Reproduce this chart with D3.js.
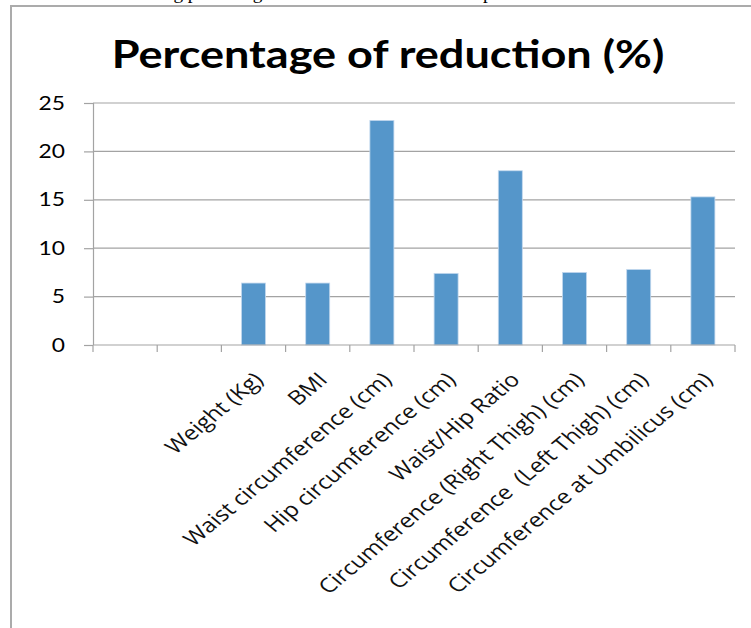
<!DOCTYPE html>
<html>
<head>
<meta charset="utf-8">
<script src="https://cdn.jsdelivr.net/npm/d3@7"></script>
<style>
  body { margin: 0; background: #fff; }
  svg { display: block; }
  .x-label { white-space: pre; }
</style>
</head>
<body>
<div id="chart"></div>
<script>
// chart data (first two slots are empty in the original)
const categories = ['', '', 'Weight (Kg)', 'BMI', 'Waist circumference (cm)', 'Hip circumference (cm)',
  'Waist/Hip Ratio', 'Circumference (Right Thigh) (cm)', 'Circumference  (Left Thigh) (cm)',
  'Circumference at Umbilicus (cm)'];
const reduction = [null, null, 6.4, 6.4, 23.2, 7.4, 18.0, 7.5, 7.8, 15.3];
const yTicks = [0, 5, 10, 15, 20, 25];

const width = 751, height = 628;
const margin = {top: 103, right: 16, bottom: 283, left: 93};
// the scanned figure is stretched sideways, so text gets the same stretch
const stretch = 1.2;

const svg = d3.select('#chart').append('svg')
    .attr('width', width)
    .attr('height', height);

// clipped caption line from the document above the figure
svg.append('text')
    .attr('transform', `translate(118,-1) scale(${stretch},1)`)
    .style('font-family', '"Liberation Serif", serif')
    .style('font-size', '16px')
    .text('showing percentage of reduction in the various parameters');

svg.append('rect').attr('x', 0).attr('y', 7).attr('width', width).attr('height', height).attr('fill', '#fff');
svg.append('path')
    .attr('d', `M11,${height} V6 H${width}`)
    .attr('fill', 'none')
    .attr('stroke', '#ababab')
    .attr('stroke-width', 2);

svg.append('text')
    .attr('transform', 'translate(388,68) scale(1.155,1)')
    .attr('text-anchor', 'middle')
    .style('font-family', 'Lato, sans-serif')
    .style('font-weight', 'bold')
    .style('font-size', '39px')
    .text('Percentage of reduction (%)');

const innerW = width - margin.left - margin.right;
const innerH = height - margin.top - margin.bottom;

const g = svg.append('g').attr('transform', `translate(${margin.left},${margin.top})`);

const x = d3.scaleBand()
    .domain(d3.range(categories.length))
    .range([0, innerW])
    .paddingInner(0.626)
    .paddingOuter(0.313);

const y = d3.scaleLinear().domain([0, 25]).range([innerH, 0]);

// gridlines
g.selectAll('.grid')
  .data(yTicks.filter(d => d > 0))
  .join('line')
    .attr('class', 'grid')
    .attr('x1', 0).attr('x2', innerW)
    .attr('y1', d => y(d)).attr('y2', d => y(d))
    .attr('stroke', '#a3a3a3')
    .attr('stroke-width', 1.2);

// bars
g.selectAll('.bar')
  .data(reduction.map((v, i) => ({i, v})).filter(d => d.v != null))
  .join('rect')
    .attr('class', 'bar')
    .attr('x', d => x(d.i))
    .attr('y', d => y(d.v))
    .attr('width', x.bandwidth())
    .attr('height', d => innerH - y(d.v))
    .attr('fill', '#5596ca')
    .attr('stroke', '#c3d8ee')
    .attr('stroke-width', 0.8);

// y axis
const yAxis = g.append('g')
    .call(d3.axisLeft(y).tickValues(yTicks).tickSize(9));
yAxis.select('.domain').attr('stroke', '#a3a3a3').attr('stroke-width', 1.2).attr('d', `M-9,0.5H0.5V${innerH}`);
yAxis.selectAll('.tick line').attr('stroke', '#a3a3a3').attr('stroke-width', 1.2);
yAxis.selectAll('.tick text')
    .attr('x', 0)
    .attr('transform', `translate(-28,0) scale(${stretch},1)`)
    .style('font-family', 'Lato, sans-serif')
    .style('font-size', '19px')
    .attr('fill', '#000');

// x axis: ticks sit on the category boundaries
const step = x.step();
const xAxis = g.append('g').attr('transform', `translate(0,${innerH})`);
xAxis.append('line')
    .attr('x1', 0).attr('x2', innerW)
    .attr('stroke', '#a3a3a3').attr('stroke-width', 1.2);
xAxis.selectAll('.xtick')
  .data(d3.range(categories.length + 1))
  .join('line')
    .attr('class', 'xtick')
    .attr('x1', d => d * step).attr('x2', d => d * step)
    .attr('y1', 0).attr('y2', 7)
    .attr('stroke', '#a3a3a3').attr('stroke-width', 1.2);

xAxis.selectAll('.x-label')
  .data(categories.map((c, i) => ({c, i})).filter(d => d.c))
  .join('text')
    .attr('class', 'x-label')
    .attr('text-anchor', 'end')
    .attr('transform', d => `translate(${x(d.i) + x.bandwidth() / 2 + 11},36) scale(${stretch},1) rotate(-45)`)
    .style('font-family', '"Open Sans", sans-serif')
    .style('font-size', '20px')
    .attr('fill', '#111')
    .text(d => d.c);
</script>
</body>
</html>
